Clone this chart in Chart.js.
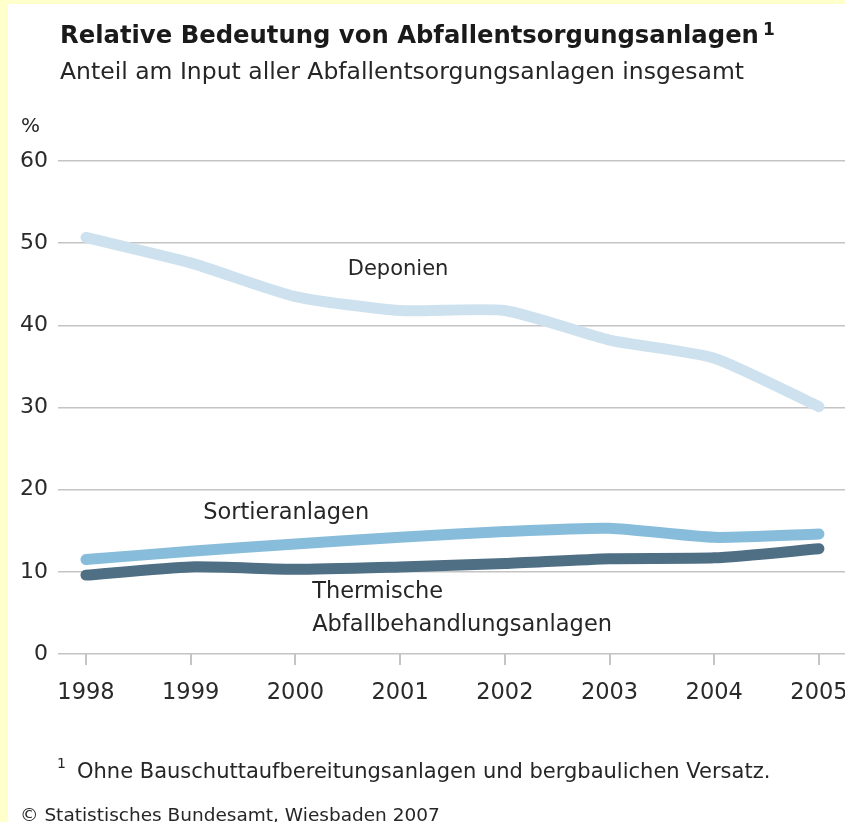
<!DOCTYPE html>
<html>
<head>
<meta charset="utf-8">
<script src="https://cdn.jsdelivr.net/npm/chart.js@4.4.1/dist/chart.umd.min.js"></script>
<style>
  html, body { margin: 0; padding: 0; overflow: hidden; width: 845px; height: 822px; background: #ffffcc; }
  #paper { position: absolute; left: 8px; top: 4px; width: 837px; height: 818px; background: #ffffff; }
  #wrap { position: absolute; left: 0; top: 0; width: 900px; height: 822px; }
</style>
</head>
<body>
<div id="paper"></div>
<div id="wrap"><canvas id="c" width="900" height="822"></canvas></div>
<script>
// ---- data ----
const years = [1998, 1999, 2000, 2001, 2002, 2003, 2004, 2005];
const deponien = [50.7, 47.6, 43.5, 41.8, 41.8, 38.2, 36.0, 30.1];
const sortieranlagen = [11.5, 12.5, 13.4, 14.2, 14.9, 15.3, 14.2, 14.6];
const thermische = [9.6, 10.6, 10.3, 10.6, 11.0, 11.6, 11.7, 12.8];
const yTicks = [0, 10, 20, 30, 40, 50, 60];

const title = "Relative Bedeutung von Abfallentsorgungsanlagen";
const subtitle = "Anteil am Input aller Abfallentsorgungsanlagen insgesamt";
const unit = "%";
const footnote = "Ohne Bauschuttaufbereitungsanlagen und bergbaulichen Versatz.";
const source = "\u00A9 Statistisches Bundesamt, Wiesbaden 2007";

// label anchors in data coordinates [year, value]
const labels = [
  { text: "Deponien", x: 2000.50, y: 46.8 },
  { text: "Sortieranlagen", x: 1999.12, y: 17.1 },
  { text: "Thermische", x: 2000.16, y: 7.5 },
  { text: "Abfallbehandlungsanlagen", x: 2000.16, y: 3.5 }
];

const pts = arr => arr.map((v, i) => ({ x: years[i], y: v }));

const textPlugin = {
  id: 'texts',
  afterDatasetsDraw(chart) {
    const ctx = chart.ctx;
    const xs = chart.scales.x, ys = chart.scales.y;
    ctx.save();
    ctx.fillStyle = '#262626';
    ctx.textBaseline = 'middle';
    ctx.textAlign = 'left';
    labels.forEach(l => {
      ctx.font = (l.text === "Deponien" ? '21px' : '22.5px') + ' "DejaVu Sans", sans-serif';
      ctx.fillText(l.text, xs.getPixelForValue(l.x), ys.getPixelForValue(l.y));
    });
    ctx.textBaseline = 'alphabetic';
    // titles
    ctx.fillStyle = '#1a1a1a';
    ctx.font = 'bold 24.3px "DejaVu Sans", sans-serif';
    ctx.fillText(title, 60, 43);
    const tw = ctx.measureText(title).width;
    ctx.font = 'bold 17px "DejaVu Sans", sans-serif';
    ctx.fillText("1", 60 + tw + 4, 35);
    ctx.font = '23.5px "DejaVu Sans", sans-serif';
    ctx.fillStyle = '#262626';
    ctx.fillText(subtitle, 60, 79);
    ctx.font = '20px "DejaVu Sans", sans-serif';
    ctx.fillText(unit, 21, 132);
    ctx.font = '14px "DejaVu Sans", sans-serif';
    ctx.fillText("1", 57, 768);
    ctx.font = '21px "DejaVu Sans", sans-serif';
    ctx.fillText(footnote, 77, 778);
    ctx.font = '18.5px "DejaVu Sans", sans-serif';
    ctx.fillText(source, 20, 821);
    ctx.restore();
  }
};

new Chart(document.getElementById('c'), {
  type: 'line',
  data: {
    datasets: [
      { label: 'Deponien', data: pts(deponien), borderColor: '#cde2ee' },
      { label: 'Sortieranlagen', data: pts(sortieranlagen), borderColor: '#87bddb' },
      { label: 'Thermische Abfallbehandlungsanlagen', data: pts(thermische), borderColor: '#4f6f85' }
    ].map(d => Object.assign(d, {
      borderWidth: 11, pointRadius: 0, pointHoverRadius: 0, tension: 0.2,
      borderCapStyle: 'round', borderJoinStyle: 'round', fill: false
    }))
  },
  options: {
    responsive: false,
    animation: false,
    events: [],
    layout: { padding: { left: 0, right: 20, top: 161, bottom: 108 } },
    plugins: { legend: { display: false }, tooltip: { enabled: false }, title: { display: false } },
    scales: {
      x: {
        type: 'linear',
        min: 1997.733,
        max: 2005.583,
        afterBuildTicks: s => { s.ticks = years.map(v => ({ value: v })); },
        afterFit: s => { s.height = 60; },
        ticks: {
          autoSkip: false, maxRotation: 0, padding: 15,
          color: '#2a2a2a',
          font: { family: '"DejaVu Sans", sans-serif', size: 22.5 },
          callback: v => String(v)
        },
        grid: { drawOnChartArea: false, drawTicks: true, tickLength: 11, color: '#c4c4c4', lineWidth: 2 },
        border: { display: false }
      },
      y: {
        min: 0, max: 60,
        afterBuildTicks: s => { s.ticks = yTicks.map(v => ({ value: v })); },
        afterFit: s => { s.width = 58; },
        ticks: {
          padding: 10, color: '#2a2a2a',
          font: { family: '"DejaVu Sans", sans-serif', size: 22 }
        },
        grid: { drawTicks: false, color: '#c4c4c4', lineWidth: 1.5 },
        border: { display: false }
      }
    }
  },
  plugins: [textPlugin]
});
</script>
</body>
</html>
